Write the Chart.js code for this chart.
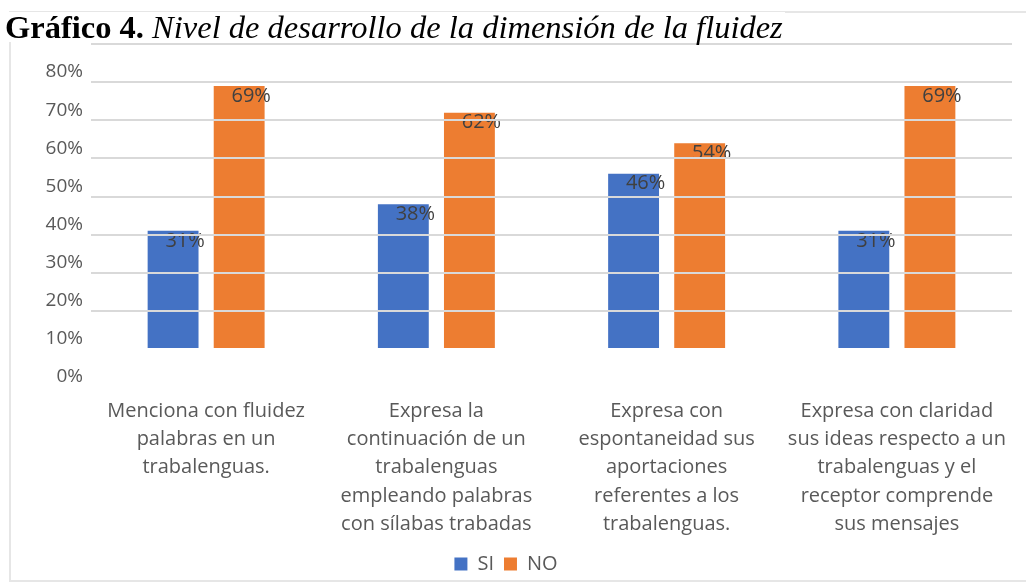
<!DOCTYPE html>
<html>
<head>
<meta charset="utf-8">
<script src="https://cdn.jsdelivr.net/npm/chart.js@4"></script>
<style>
    body { margin: 0; background: #fff; }
    #wrap { position: relative; width: 1026px; height: 584px; overflow: hidden; }
    #frame { position: absolute; left: 9px; top: 11px; width: 1030px; height: 571px; border: 2px solid #e6e6e6; box-sizing: border-box; }
    #title { position: absolute; left: 5px; top: 12px; font-family: "Liberation Serif", serif; font-size: 32.5px; color: #000; background: #fff; line-height: 30px; padding-right: 2px; }
    #title b { font-weight: bold; }
    #title i { font-style: italic; }
    canvas { position: absolute; left: 0; top: 0; }
</style>
</head>
<body>
<div id="wrap">
    <div id="frame"></div>
    <canvas id="fluidezChart" width="1026" height="584"></canvas>
    <div id="title"><b>Gráfico 4.</b> <i>Nivel de desarrollo de la dimensión de la fluidez</i></div>
</div>
<script>
const categories = [
    ["Menciona con fluidez", "palabras en un", "trabalenguas."],
    ["Expresa la", "continuación de un", "trabalenguas", "empleando palabras", "con sílabas trabadas"],
    ["Expresa con", "espontaneidad sus", "aportaciones", "referentes a los", "trabalenguas."],
    ["Expresa con claridad", "sus ideas respecto a un", "trabalenguas y el", "receptor comprende", "sus mensajes"]
];
const siValues = [31, 38, 46, 31];
const noValues = [69, 62, 54, 69];
const yTicks = [0, 10, 20, 30, 40, 50, 60, 70, 80];

const fontName = "'Open Sans', sans-serif";
const gray = "#595959";

// writes the value a bit right of centre, just under the top of each bar
const barLabels = {
    id: 'barLabels',
    afterDatasetsDraw(chart) {
        const ctx = chart.ctx;
        ctx.save();
        ctx.font = "20px " + fontName;
        ctx.fillStyle = "#404040";
        ctx.textAlign = "center";
        ctx.textBaseline = "middle";
        chart.data.datasets.forEach((ds, i) => {
            chart.getDatasetMeta(i).data.forEach((bar, j) => {
                ctx.fillText(ds.data[j] + "%", bar.x + 12, bar.y + 10);
            });
        });
        ctx.restore();
    }
};

new Chart('fluidezChart', {
    type: 'bar',
    data: {
        labels: categories,
        datasets: [
            { label: "SI", data: siValues, backgroundColor: "#4472C4" },
            { label: "NO", data: noValues, backgroundColor: "#ED7D31" }
        ]
    },
    options: {
        responsive: false,
        animation: false,
        categoryPercentage: 0.574,
        barPercentage: 0.77,
        layout: { padding: { top: 44, right: 14, left: 0, bottom: 0 } },
        scales: {
            x: {
                grid: { display: false, drawTicks: false },
                border: { display: false },
                ticks: {
                    padding: 48,
                    maxRotation: 0,
                    autoSkip: false,
                    color: gray,
                    font: { family: fontName, size: 20, lineHeight: 1.415 }
                },
                afterFit(scale) {
                    scale.height = 195;
                    scale.paddingLeft = 0;
                    scale.paddingRight = 0;
                }
            },
            y: {
                min: 0,
                max: 80,
                afterBuildTicks(scale) { scale.ticks = yTicks.map(v => ({ value: v })); },
                grid: {
                    z: 1,
                    lineWidth: 2,
                    drawTicks: false,
                    color: c => (c.tick && c.tick.value === 0) ? 'rgba(0,0,0,0)' : '#d9d9d9'
                },
                border: { display: false },
                ticks: {
                    padding: 8,
                    labelOffset: 28,
                    color: gray,
                    font: { family: fontName, size: 19 },
                    callback: v => v + "%"
                },
                afterFit(scale) { scale.width = 91; }
            }
        },
        plugins: {
            legend: {
                position: 'bottom',
                labels: {
                    boxWidth: 13,
                    boxHeight: 13,
                    padding: 10,
                    color: gray,
                    font: { family: fontName, size: 20 }
                }
            },
            tooltip: { enabled: false }
        }
    },
    plugins: [barLabels]
});
</script>
</body>
</html>
